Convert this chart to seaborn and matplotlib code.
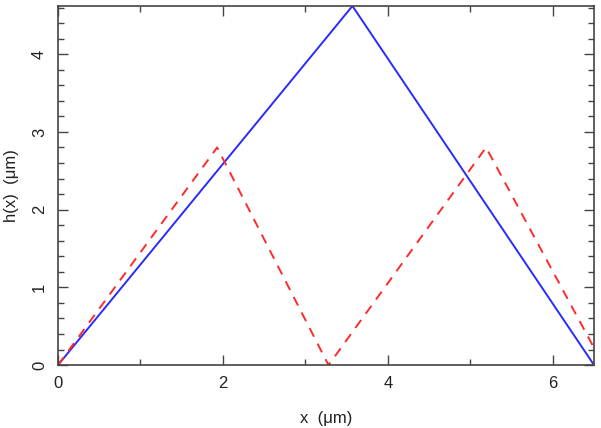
"""
Height profile h(x): single ridge vs. double ridge.
"""

import pandas as pd
import matplotlib
matplotlib.use("Agg")
import matplotlib.pyplot as plt
import seaborn as sns
from matplotlib.ticker import MultipleLocator

# Data
x_single = [0.0, 3.57, 6.5]
h_single = [0.0, 4.62, 0.0]

x_double = [0.0, 1.93, 3.28, 5.19, 6.5]
h_double = [0.0, 2.80, 0.0, 2.80, 0.22]

df_single = pd.DataFrame({'x': x_single, 'h': h_single})
df_double = pd.DataFrame({'x': x_double, 'h': h_double})

sns.set_style("white")
plt.rcParams['font.family'] = ['Liberation Sans', 'DejaVu Sans']

fig = plt.figure(figsize=(6.01, 4.28), dpi=100)
ax = fig.add_axes([0.0965, 0.147, 0.892, 0.839])

sns.lineplot(data=df_single, x='x', y='h', color='#2a2aff', linewidth=1.4,
             sort=False, ax=ax)
sns.lineplot(data=df_double, x='x', y='h', color='#ff2a2a', linewidth=1.4,
             linestyle=(0, (5, 4)), sort=False, ax=ax)

ax.set_xlim(0, 6.5)
ax.set_ylim(0, 4.62)

ax.xaxis.set_major_locator(MultipleLocator(2))
ax.xaxis.set_minor_locator(MultipleLocator(1))
ax.yaxis.set_major_locator(MultipleLocator(1))
ax.yaxis.set_minor_locator(MultipleLocator(0.2))

frame = '#444444'
for s in ax.spines.values():
    s.set_color(frame)
    s.set_linewidth(1.2)

ax.tick_params(which='both', direction='in', top=True, right=True,
               color=frame, bottom=True, left=True)
ax.tick_params(which='major', length=7, width=1.0, labelsize=12,
               labelcolor='#222222', pad=8)
ax.tick_params(which='minor', length=4, width=1.0)
ax.tick_params(axis='y', labelrotation=90)
for lab in ax.get_yticklabels():
    lab.set_va('center')

ax.set_xlabel('x  (μm)', fontsize=12, color='#222222', labelpad=14)
ax.set_ylabel('h(x)  (μm)', fontsize=12, color='#222222', labelpad=9)

fig.savefig('out.png', dpi=100)
